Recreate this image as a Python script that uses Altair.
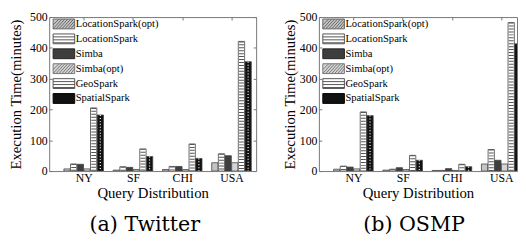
import json
import altair as alt
import pandas as pd

categories = ["NY", "SF", "CHI", "USA"]
series = ["LocationSpark(opt)", "LocationSpark", "Simba", "Simba(opt)", "GeoSpark", "SpatialSpark"]
y_ticks = [0, 100, 200, 300, 400, 500]

# (a) Twitter
tw_locspark_opt = [7, 3, 5, 27]
tw_locspark = [23, 14, 15, 56]
tw_simba = [22, 12, 15, 50]
tw_simba_opt = [7, 5, 5, 27]
tw_geospark = [205, 72, 88, 421]
tw_spatialspark = [182, 47, 41, 355]

# (b) OSMP
os_locspark_opt = [6, 3, 2, 23]
os_locspark = [16, 6, 2, 70]
os_simba = [13, 11, 8, 35]
os_simba_opt = [7, 5, 2, 23]
os_geospark = [192, 51, 22, 482]
os_spatialspark = [180, 35, 14, 413]

fills = ["#c4c4c4", "#ffffff", "#3e3e3e", "#d4d4d4", "#ffffff", "#111111"]
strokes = ["#666666", "#555555", "#222222", "#777777", "#555555", "#000000"]

R = "M-2.2,-1H2.2V1H-2.2Z"
STRIPES = R + "M-2.2,-0.4H2.2M-2.2,0.2H2.2M-2.2,0.8H2.2"
DIAG = R + "M-2.2,0.2L-1,-1M-2.2,1L-0.4,-1M-1.6,1L0.2,-1M-1,1L0.8,-1M-0.4,1L1.4,-1M0.2,1L2,-1M0.8,1L2.2,-0.6M1.4,1L2.2,0"
shapes = [DIAG, STRIPES, R, DIAG, STRIPES, R]

SERIF = "Liberation Serif"
PX_PER_UNIT = 211 / 4.2
H = 157


def panel(values, subtitle, width, right_ticks, dx, title_pad):
    rows = []
    for si, name in enumerate(series):
        for ci, cat in enumerate(categories):
            pos = ci + 1 + (si - 2.5) * 0.135
            rows.append({"series": name, "cat": cat, "value": values[si][ci],
                         "pos": pos, "x0": pos - 0.064, "x1": pos + 0.064})
    df = pd.DataFrame(rows)
    xs = alt.Scale(domain=[0.3, 0.3 + width / PX_PER_UNIT], nice=False, zero=False)
    ys = alt.Scale(domain=[0, 500], nice=False)
    label_expr = json.dumps(categories) + "[datum.value - 1]"
    base = alt.Chart(df)

    bars = base.mark_bar(stroke="#444444", strokeWidth=0.8, clip=True).encode(
        x=alt.X("x0:Q", scale=xs, axis=alt.Axis(orient="bottom", values=[1, 2, 3, 4], labelExpr=label_expr,
                                                  title="Query Distribution", ticks=False, domain=False,
                                                  grid=False, labelPadding=2, titlePadding=2,
                                                  labelFont=SERIF, titleFont=SERIF, labelFontSize=12,
                                                  titleFontSize=15)),
        x2="x1:Q",
        y=alt.Y("value:Q", scale=ys, axis=alt.Axis(orient="left", values=y_ticks, title="Execution Time(minutes)",
                                                  ticks=False, domain=False, grid=False, labelPadding=2,
                                                  titlePadding=title_pad, labelFont=SERIF, titleFont=SERIF,
                                                  labelFontSize=12, titleFontSize=15)),
        y2=alt.datum(0),
        color=alt.Color("series:N", scale=alt.Scale(domain=series, range=fills), legend=None),
    )

    stripes = base.transform_filter(
        alt.FieldOneOfPredicate(field="series", oneOf=["LocationSpark", "GeoSpark"])
    ).mark_rule(strokeDash=[1, 2], strokeWidth=5, color="#555555", clip=True).encode(
        x=alt.X("pos:Q", scale=xs, axis=alt.Axis(orient="bottom", offset=-H, values=[1, 2, 3, 4], labels=False,
                                                   title=None, domain=False, grid=False, tickSize=3)),
        y=alt.Y("value:Q", scale=ys, axis=alt.Axis(orient="right", offset=-width, values=y_ticks, labels=False,
                                                  title=None, domain=False, grid=False, tickSize=3)),
        y2=alt.datum(0),
    )

    dot_axis = (alt.Axis(orient="left", offset=-width, values=y_ticks, labels=False, title=None,
                         domain=False, grid=False, tickSize=3) if right_ticks else None)
    dots = base.transform_filter(
        alt.FieldEqualPredicate(field="series", equal="SpatialSpark")
    ).mark_rule(strokeDash=[1, 2], strokeWidth=1.2, color="#ffffff", clip=True).encode(
        x=alt.X("pos:Q", scale=xs, axis=None),
        y=alt.Y("value:Q", scale=ys, axis=dot_axis),
        y2=alt.datum(0),
    )

    leg_df = pd.DataFrame({"series": series})
    leg_y = alt.Y("series:N", scale=alt.Scale(type="point", domain=series, range=[7, 83], padding=0), axis=None)
    leg_sw = alt.Chart(leg_df).mark_point(size=100, filled=True, strokeWidth=1, opacity=1).encode(
        x=alt.value(15),
        y=leg_y,
        shape=alt.Shape("series:N", scale=alt.Scale(domain=series, range=shapes), legend=None),
        fill=alt.Fill("series:N", scale=alt.Scale(domain=series, range=fills), legend=None),
        stroke=alt.Stroke("series:N", scale=alt.Scale(domain=series, range=strokes), legend=None),
    )
    leg_tx = alt.Chart(leg_df).mark_text(align="left", baseline="middle", font="Times New Roman",
                                         fontSize=10.8, color="black").encode(
        x=alt.value(27),
        y=leg_y,
        text="series:N",
    )

    return alt.layer(bars, stripes, dots, leg_sw, leg_tx).resolve_axis(
        x="independent", y="independent"
    ).resolve_scale(y="independent").properties(
        width=width, height=H,
        title=alt.TitleParams(subtitle, orient="bottom", font="DejaVu Serif", fontSize=21,
                              fontWeight="normal", color="black", offset=14, dx=dx),
    )


left = panel([tw_locspark_opt, tw_locspark, tw_simba, tw_simba_opt, tw_geospark, tw_spatialspark],
             "(a) Twitter", 211, True, -8, 6)
right = panel([os_locspark_opt, os_locspark, os_simba, os_simba_opt, os_geospark, os_spatialspark],
              "(b) OSMP", 202, False, -4, 2)

chart = alt.hconcat(left, right, spacing=25).properties(
    padding={"left": 0, "top": 0, "right": 0, "bottom": 0}
).configure_view(stroke="#777777", strokeWidth=1).configure_axis(
    labelFont=SERIF, titleFont=SERIF, labelFontSize=12, titleFontSize=15,
    titleFontWeight="normal", labelColor="black", titleColor="black", tickColor="#777777",
    domainColor="#777777"
)

chart.save("out.html", embed_options={"renderer": "svg", "actions": False})
